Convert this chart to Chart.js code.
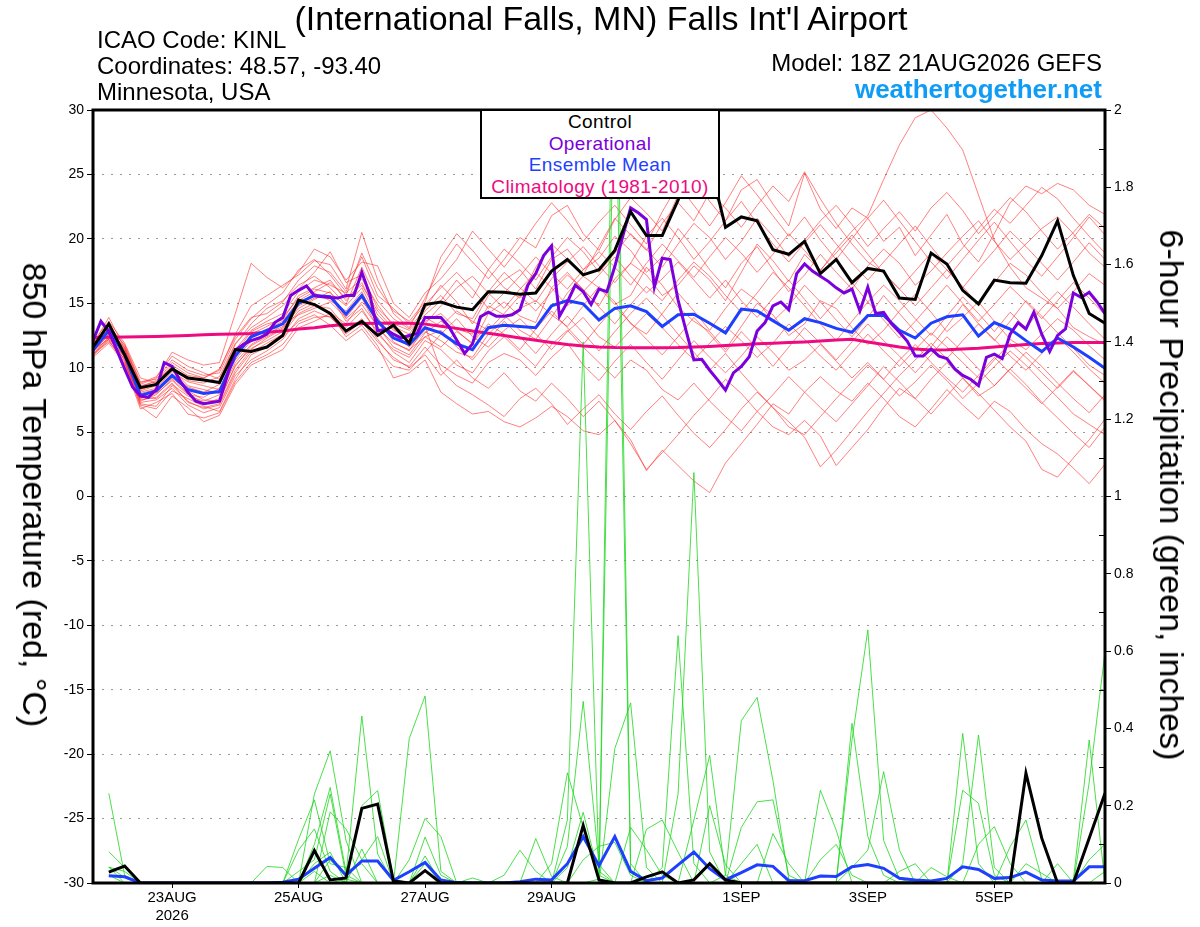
<!DOCTYPE html>
<html>
<head>
<meta charset="utf-8">
<script src="https://cdn.jsdelivr.net/npm/chart.js@4.4.1/dist/chart.umd.min.js"></script>
<style>
  body { margin: 0; background: #fff; }
  #wrap { position: relative; width: 1200px; height: 927px; font-family: 'Liberation Sans', Arial, Helvetica, sans-serif; color: #000; overflow: hidden; }
  #chart { position: absolute; left: 0; top: 0; }
  .t { position: absolute; white-space: nowrap; line-height: 1; }
  .axt { position: absolute; white-space: nowrap; line-height: 1; font-size: 34px; transform: translate(-50%, -50%) rotate(90deg); }
  #legend { position: absolute; left: 480px; top: 109px; width: 240px; height: 90px; box-sizing: border-box;
            border: 2px solid #000; background: #fff; text-align: center; font-size: 19px; line-height: 21.5px; letter-spacing: 0.4px; }
</style>
</head>
<body>
<div id="wrap">
  <canvas id="chart" width="1200" height="927"></canvas>
  <div class="t" style="left:97px;top:28px;font-size:24px">ICAO Code: KINL</div>
  <div class="t" style="left:97px;top:54px;font-size:24px">Coordinates: 48.57, -93.40</div>
  <div class="t" style="left:97px;top:80px;font-size:24px">Minnesota, USA</div>
  <div class="t" style="left:601px;top:1px;font-size:34px;transform:translateX(-50%)">(International Falls, MN) Falls Int'l Airport</div>
  <div class="t" style="right:98px;top:51px;font-size:24px">Model: 18Z 21AUG2026 GEFS</div>
  <div class="t" style="right:98px;top:76px;font-size:26px;font-weight:bold;color:#109CF5">weathertogether.net</div>
  <div class="axt" style="left:35px;top:495px">850 hPa Temperature (red, °C)</div>
  <div class="axt" style="left:1172px;top:495px">6-hour Precipitation (green, inches)</div>
  <div id="legend">
    <div style="color:#000">Control</div>
    <div style="color:#7B00DB">Operational</div>
    <div style="color:#1F3FFF">Ensemble Mean</div>
    <div style="color:#EE0A7F">Climatology (1981-2010)</div>
  </div>
</div>
<script>
// x axis: hours after 18Z 21AUG2026, 6-hourly (65 steps), operational 3-hourly (129 steps)
var tickHours = [30, 78, 126, 174, 246, 294, 342];
var dayLabels = ['23AUG', '25AUG', '27AUG', '29AUG', '1SEP', '3SEP', '5SEP'];
var yearLabel = '2026';

// 850 hPa temperature (C), 6-hourly
var controlTemp = [
  11.6, 13.4, 11.0, 8.45, 8.7, 9.9, 9.2, 9.05, 8.85, 11.4, 11.25, 11.6, 12.5,
  15.25, 14.9, 14.2, 12.85, 13.6, 12.5, 13.3, 11.9, 14.9, 15.1, 14.7, 14.5, 15.9,
  15.85, 15.7, 15.8, 17.5, 18.4, 17.2, 17.6, 19.1, 22.1, 20.25, 20.25, 23.0, 26.3,
  25.9, 20.9, 21.7, 21.4, 19.15, 18.8, 19.8, 17.3, 18.4, 16.6, 17.7, 17.5, 15.4,
  15.3, 18.9, 18.05, 16.0, 14.95, 16.8, 16.6, 16.55, 18.7, 21.4, 17.15, 14.2, 13.45
];
var meanTemp = [
  11.35, 12.9, 11.0, 7.85, 8.2, 9.4, 8.3, 8.0, 8.15, 10.9, 12.4, 12.9, 13.4,
  15.0, 15.6, 15.5, 14.15, 15.6, 13.6, 12.3, 11.8, 13.1, 12.7, 11.85, 11.4, 13.1,
  13.3, 13.2, 13.1, 14.8, 15.2, 14.95, 13.7, 14.6, 14.8, 14.35, 13.2, 14.1, 14.15,
  13.45, 12.7, 14.55, 14.4, 13.65, 12.9, 13.8, 13.5, 13.05, 12.75, 14.05, 14.05, 12.9,
  12.3, 13.45, 13.95, 14.1, 12.45, 13.5, 13.0, 12.1, 11.25, 12.3, 11.6, 10.8, 9.95
];
var climoTemp = [
  12.35, 12.37, 12.38, 12.4, 12.42, 12.45, 12.5, 12.55, 12.6, 12.62, 12.66, 12.75, 12.85,
  13.0, 13.1, 13.25, 13.35, 13.42, 13.45, 13.47, 13.45, 13.38, 13.22, 13.05, 12.85, 12.68,
  12.5, 12.3, 12.12, 11.95, 11.8, 11.68, 11.6, 11.56, 11.55, 11.55, 11.55, 11.56, 11.6,
  11.65, 11.72, 11.78, 11.85, 11.9, 11.95, 12.0, 12.07, 12.15, 12.2, 12.0, 11.8, 11.6,
  11.45, 11.38, 11.4, 11.45, 11.5, 11.6, 11.7, 11.8, 11.88, 11.92, 11.95, 11.95, 11.95
];
// operational run, 3-hourly (one row = one day)
var operTemp = [
  12.1, 13.6, 12.8, 11.4, 9.9, 8.5, 7.8, 7.7,
  8.3, 10.4, 10.1, 9.0, 8.1, 7.4, 7.2, 7.3,
  7.4, 9.4, 11.35, 11.8, 12.1, 12.3, 12.6, 13.5,
  13.9, 15.6, 16.0, 16.35, 15.6, 15.5, 15.45, 15.4,
  15.6, 15.6, 17.4, 15.7, 12.85, 13.0, 12.6, 12.3,
  12.5, 12.65, 13.9, 13.9, 13.9, 13.2, 12.15, 11.1,
  11.85, 13.95, 14.3, 14.0, 14.0, 14.1, 14.5, 16.4,
  17.3, 18.7, 19.45, 14.0, 15.1, 16.4, 15.9, 14.9,
  16.1, 15.9, 17.85, 20.2, 22.4, 22.0, 21.5, 16.25,
  18.5, 18.4, 15.25, 12.9, 10.6, 10.65, 9.8, 9.05,
  8.25, 9.6, 10.1, 10.85, 12.85, 13.5, 14.8, 15.1,
  14.5, 17.3, 18.05, 17.5, 17.1, 16.7, 16.2, 15.8,
  16.1, 14.4, 16.25, 14.2, 14.3, 13.4, 12.75, 12.05,
  10.9, 10.9, 11.45, 10.9, 10.7, 9.9, 9.4, 9.1,
  8.6, 10.8, 11.05, 10.7, 12.6, 13.5, 13.0, 14.3,
  12.6, 11.25, 12.5, 13.0, 15.8, 15.45, 15.85, 15.1,
  14.2
];

// ensemble member temperatures (C), 6-hourly
var memberTemps = [
  [11.8, 13.9, 11.5, 8.6, 8.9, 10.4, 9.6, 9.2, 9.8, 12.6, 14.8, 15.6, 16.4,
   17.2, 18.3, 18.0, 16.1, 20.5, 16.8, 14.2, 13.1, 15.4, 17.8, 19.6, 18.2, 16.9,
   18.4, 20.1, 19.3, 21.8, 22.6, 20.4, 19.1, 21.5, 23.2, 22.0, 20.6, 23.4, 24.8,
   22.9, 21.4, 23.8, 24.6, 22.7, 21.0, 25.1, 22.3, 20.8, 22.4, 21.6, 19.8, 20.9,
   18.7, 20.3, 21.9, 19.6, 18.2, 20.4, 22.8, 24.1, 23.5, 24.3, 23.8, 22.6, 21.9],
  [11.2, 12.6, 10.8, 7.4, 7.9, 9.1, 8.0, 7.2, 7.6, 10.1, 11.7, 12.4, 13.1,
   14.6, 15.3, 15.9, 13.8, 14.9, 13.2, 11.6, 11.0, 12.7, 13.6, 12.9, 11.8, 14.2,
   15.1, 14.0, 13.5, 16.2, 17.4, 16.0, 14.8, 16.9, 18.1, 17.2, 15.6, 16.4, 17.9,
   16.8, 15.2, 17.4, 19.6, 18.3, 16.7, 18.8, 17.5, 19.2, 20.6, 21.8, 24.6, 27.3,
   29.4, 30.0, 28.6, 26.9, 23.4, 19.9, 17.8, 16.2, 15.4, 14.6, 13.1, 12.4, 11.8],
  [10.9, 12.1, 10.4, 7.0, 6.1, 7.8, 6.9, 5.8, 6.3, 8.7, 10.2, 10.8, 11.4,
   13.1, 13.6, 14.2, 12.4, 13.3, 11.7, 9.2, 9.6, 10.6, 8.1, 7.2, 6.4, 6.6,
   5.8, 5.4, 6.1, 7.0, 6.2, 5.1, 4.8, 5.9, 4.4, 2.0, 3.6, 2.4, 1.2,
   0.3, 2.6, 4.1, 5.6, 7.2, 6.4, 8.1, 9.3, 8.2, 7.4, 8.8, 7.6, 6.2,
   5.4, 6.8, 8.3, 7.1, 6.0, 7.4, 6.6, 5.2, 4.1, 3.3, 2.2, 1.0, 2.5],
  [11.6, 13.2, 11.2, 8.1, 8.4, 9.7, 8.9, 8.6, 8.3, 11.1, 12.8, 13.4, 13.7,
   15.6, 16.2, 16.8, 15.2, 16.6, 14.1, 12.9, 12.3, 13.6, 14.2, 13.0, 12.6, 14.8,
   14.1, 12.9, 12.2, 13.9, 15.8, 17.1, 16.2, 14.9, 15.6, 17.8, 16.4, 14.7, 13.6,
   12.8, 11.4, 13.2, 15.0, 14.1, 12.5, 13.4, 15.2, 14.6, 13.1, 11.8, 12.9, 14.4,
   15.7, 14.3, 12.8, 13.9, 15.1, 13.6, 12.2, 11.4, 12.6, 13.8, 12.9, 11.7, 10.6],
  [11.0, 12.4, 10.6, 7.2, 7.0, 8.6, 7.4, 6.8, 7.1, 9.6, 11.2, 11.9, 12.6,
   14.2, 14.8, 14.6, 13.1, 14.4, 12.8, 11.2, 10.4, 12.1, 11.4, 10.2, 9.6, 11.3,
   12.4, 11.2, 10.1, 11.8, 12.9, 11.6, 10.4, 9.2, 10.6, 9.8, 8.3, 7.5, 8.8,
   7.4, 6.2, 5.1, 6.6, 5.4, 4.8, 5.9, 4.7, 2.4, 3.8, 5.2, 6.9, 8.4,
   7.6, 9.1, 10.4, 9.2, 7.8, 8.6, 9.9, 8.7, 7.3, 6.1, 4.9, 3.8, 5.4],
  [11.9, 12.8, 11.6, 8.8, 9.3, 10.9, 10.1, 9.6, 9.1, 11.8, 13.4, 14.6, 15.2,
   16.4, 17.1, 16.2, 14.9, 17.8, 15.2, 13.8, 13.0, 14.6, 16.4, 15.1, 13.4, 15.6,
   16.8, 17.6, 16.1, 18.4, 19.2, 17.6, 18.5, 20.2, 19.1, 17.4, 18.6, 20.8, 19.3,
   17.6, 16.2, 18.1, 19.4, 17.6, 15.9, 17.2, 18.8, 17.4, 16.1, 17.9, 19.2, 18.1,
   16.4, 17.5, 18.9, 20.2, 21.4, 19.8, 18.4, 19.6, 20.8, 21.7, 20.4, 18.9, 17.8],
  [11.4, 12.2, 10.9, 7.6, 8.0, 9.0, 7.9, 7.7, 8.4, 10.6, 12.1, 12.6, 13.2,
   14.9, 15.8, 15.2, 14.4, 15.9, 13.4, 12.6, 11.6, 12.8, 12.1, 11.2, 10.8, 12.6,
   13.8, 14.6, 15.2, 14.1, 13.2, 14.8, 16.3, 15.1, 13.4, 12.6, 14.2, 15.8, 14.4,
   12.9, 14.6, 16.1, 15.2, 13.6, 14.8, 16.4, 15.1, 13.7, 12.4, 13.9, 15.6, 14.2,
   12.8, 11.6, 13.2, 14.9, 13.4, 12.1, 13.6, 15.2, 14.0, 12.7, 11.5, 10.2, 9.4],
  [11.7, 13.5, 11.3, 8.3, 8.7, 10.1, 9.0, 8.8, 9.3, 11.9, 13.1, 13.9, 14.8,
   16.1, 17.4, 19.0, 16.6, 17.2, 14.6, 13.4, 12.9, 14.1, 15.2, 16.8, 15.4, 17.6,
   16.2, 15.4, 17.8, 19.6, 18.4, 17.2, 19.4, 21.6, 20.3, 19.1, 21.2, 22.8, 21.4,
   23.6, 22.4, 20.9, 22.6, 24.1, 22.9, 25.2, 23.1, 21.2, 19.6, 18.2, 17.4, 16.1,
   14.8, 16.2, 17.6, 16.3, 14.9, 16.6, 18.1, 17.2, 15.8, 14.6, 15.9, 17.3, 16.4],
  [11.1, 12.0, 10.7, 7.3, 7.5, 8.4, 7.1, 6.5, 6.9, 9.4, 10.6, 11.3, 12.2,
   13.8, 14.4, 13.9, 12.8, 13.8, 12.2, 10.6, 10.1, 11.6, 10.2, 9.4, 8.8, 10.4,
   11.1, 10.6, 9.4, 10.8, 11.9, 10.2, 9.0, 10.5, 11.8, 10.4, 9.1, 10.6, 12.1,
   10.8, 9.6, 10.9, 12.4, 11.2, 9.8, 10.6, 11.8, 10.5, 9.2, 10.4, 9.1, 7.8,
   8.9, 10.2, 9.0, 7.6, 8.8, 10.1, 11.3, 10.2, 8.9, 7.7, 6.4, 5.6, 4.8],
  [11.5, 12.7, 11.1, 7.9, 8.1, 9.2, 8.2, 7.5, 7.4, 10.2, 11.5, 12.1, 12.8,
   14.4, 15.0, 14.3, 13.4, 15.1, 13.9, 12.0, 11.3, 13.2, 9.8, 8.6, 7.9, 7.1,
   6.2, 7.6, 8.4, 7.2, 5.6, 6.8, 7.9, 6.4, 5.2, 6.6, 7.8, 6.3, 4.9,
   3.8, 5.2, 6.8, 8.1, 6.9, 5.4, 4.8, 6.2, 7.6, 8.9, 10.2, 9.1, 10.6,
   11.8, 10.4, 9.2, 8.1, 9.4, 10.8, 9.6, 8.4, 7.2, 8.5, 9.8, 8.6, 7.4],
  [12.1, 13.1, 11.8, 8.9, 9.1, 10.6, 9.8, 9.4, 9.6, 12.2, 13.8, 14.9, 15.8,
   17.6, 18.4, 17.2, 15.6, 18.9, 16.2, 14.4, 13.6, 15.1, 18.6, 20.4, 19.1, 17.6,
   19.2, 18.1, 16.8, 18.6, 20.1, 19.0, 17.4, 18.9, 20.4, 19.2, 17.8, 19.6, 21.2,
   20.1, 18.4, 19.8, 21.6, 20.2, 18.6, 19.9, 21.4, 22.6, 21.1, 19.4, 20.8, 22.1,
   20.6, 22.4, 23.6, 22.2, 20.4, 21.8, 23.2, 22.1, 20.6, 19.2, 20.5, 21.9, 20.8],
  [11.3, 12.5, 10.5, 7.1, 6.8, 8.2, 7.6, 7.0, 6.6, 9.1, 11.0, 11.6, 12.4,
   13.6, 14.1, 13.3, 12.1, 13.0, 11.4, 10.1, 9.8, 11.2, 12.6, 13.8, 12.4, 11.6,
   12.9, 13.8, 12.6, 11.4, 12.8, 13.9, 12.4, 11.6, 12.9, 14.2, 13.1, 11.8, 10.6,
   11.9, 13.2, 12.1, 10.8, 11.9, 13.4, 12.2, 10.9, 9.8, 11.2, 12.6, 11.3, 10.1,
   11.4, 12.7, 11.6, 10.4, 9.2, 10.6, 11.9, 10.8, 9.6, 8.4, 9.7, 8.6, 7.5],
  [11.8, 12.9, 11.4, 8.5, 9.0, 10.0, 9.3, 9.0, 8.9, 11.4, 12.9, 13.6, 14.2,
   15.9, 16.8, 16.4, 15.8, 16.9, 14.9, 13.2, 12.6, 14.4, 15.6, 14.2, 13.8, 15.9,
   17.4, 16.2, 15.1, 16.9, 18.2, 19.4, 17.9, 16.6, 18.1, 20.2, 21.6, 20.1, 18.4,
   19.8, 21.4, 22.9, 21.2, 19.6, 18.2, 19.7, 21.1, 19.6, 18.1, 16.8, 18.2, 19.6,
   21.0, 19.4, 17.9, 19.3, 20.8, 22.3, 21.2, 22.6, 24.0, 23.1, 21.6, 20.2, 18.9],
  [11.2, 12.3, 10.8, 7.5, 7.7, 8.8, 7.3, 6.9, 7.2, 9.8, 11.4, 12.3, 13.0,
   14.8, 15.4, 15.6, 13.6, 14.6, 12.6, 11.4, 10.8, 12.4, 12.9, 11.6, 10.6, 12.1,
   13.6, 12.4, 11.1, 12.6, 14.0, 12.7, 11.3, 12.8, 14.2, 15.4, 14.1, 12.6, 11.2,
   9.8, 11.1, 9.6, 8.2, 6.9, 5.8, 4.6, 2.3, 3.6, 5.1, 6.6, 8.0, 9.4,
   10.6, 11.9, 10.7, 12.1, 13.4, 12.2, 10.9, 9.8, 11.1, 12.4, 11.2, 9.9, 8.8],
  [11.6, 13.0, 11.5, 8.2, 8.6, 9.9, 8.6, 8.3, 8.0, 10.8, 12.6, 13.2, 13.9,
   15.4, 16.1, 15.8, 14.8, 16.2, 13.8, 12.4, 11.9, 13.4, 14.8, 16.2, 17.1, 15.8,
   14.6, 16.1, 17.4, 16.2, 14.8, 15.9, 17.2, 18.6, 17.1, 15.8, 16.9, 18.2, 16.8,
   15.4, 16.8, 15.2, 13.9, 15.4, 16.8, 15.3, 13.8, 15.2, 16.6, 15.1, 13.7, 12.3,
   13.6, 15.0, 16.4, 15.0, 13.6, 14.9, 16.3, 15.1, 13.8, 15.2, 16.6, 15.4, 14.1],
  [11.9, 13.3, 11.7, 8.7, 9.2, 11.2, 10.6, 10.2, 10.4, 14.2, 18.1, 17.0, 16.2,
   17.4, 19.2, 18.6, 16.8, 18.2, 17.9, 15.0, 13.9, 15.8, 16.9, 18.4, 20.6, 19.2,
   17.8, 19.4, 21.2, 22.8, 21.4, 19.8, 21.3, 22.6, 21.1, 19.6, 22.1, 24.2, 22.6,
   21.0, 22.8, 24.9, 23.4, 21.8, 20.2, 21.7, 19.9, 18.4, 20.0, 21.6, 23.0, 21.4,
   19.8, 18.2, 16.9, 18.4, 19.9, 21.3, 19.8, 18.3, 17.1, 18.6, 20.1, 21.7, 20.3],
  [11.0, 12.2, 10.2, 6.8, 7.3, 8.0, 6.4, 6.1, 6.5, 8.9, 10.4, 11.0, 11.8,
   13.4, 13.9, 14.0, 12.6, 13.6, 12.0, 10.8, 10.0, 11.0, 9.4, 10.6, 9.2, 8.4,
   9.6, 8.2, 7.4, 8.8, 7.6, 6.2, 7.4, 5.9, 4.1, 2.1, 3.4, 4.8, 6.3,
   7.6, 9.1, 8.0, 6.6, 7.9, 9.3, 8.1, 6.9, 5.8, 7.2, 8.6, 10.1, 8.9,
   7.6, 6.4, 7.8, 9.2, 8.0, 6.7, 5.4, 4.3, 2.1, 1.5, 3.0, 4.4, 6.0],
  [11.4, 12.6, 11.0, 8.0, 8.3, 9.5, 8.5, 8.1, 8.7, 11.3, 12.4, 13.0, 13.6,
   15.2, 15.9, 16.6, 15.4, 16.4, 14.4, 13.0, 12.2, 13.9, 13.2, 14.4, 13.6, 12.9,
   14.2, 15.6, 14.4, 15.9, 17.2, 16.1, 14.7, 13.4, 14.9, 16.3, 15.2, 16.8, 18.2,
   17.1, 15.6, 14.3, 15.8, 17.4, 16.2, 14.8, 13.4, 12.1, 13.6, 15.1, 16.4, 15.2,
   13.8, 12.5, 14.0, 15.5, 14.2, 12.8, 14.3, 13.1, 14.6, 15.9, 14.7, 13.4, 12.2],
  [10.8, 11.9, 10.3, 7.7, 7.6, 8.7, 7.8, 7.4, 7.9, 10.4, 11.8, 12.5, 13.4,
   14.1, 14.6, 15.1, 13.9, 15.4, 13.1, 11.9, 11.4, 12.4, 11.6, 12.8, 11.9, 13.4,
   12.6, 11.4, 13.0, 14.4, 13.1, 11.8, 13.3, 14.7, 13.5, 12.2, 11.0, 12.4, 13.9,
   12.6, 11.2, 12.8, 11.5, 10.1, 11.6, 13.1, 11.9, 10.6, 12.0, 13.4, 12.1, 10.9,
   9.6, 11.0, 12.4, 11.2, 9.9, 8.6, 9.9, 11.2, 10.1, 8.8, 7.6, 6.5, 7.9],
  [12.0, 13.6, 11.9, 9.2, 8.8, 10.2, 9.4, 9.2, 9.9, 12.4, 13.9, 14.2, 15.1,
   16.8, 17.9, 17.4, 15.9, 18.6, 15.6, 14.6, 13.4, 14.9, 16.2, 17.4, 16.1, 14.6,
   15.8, 17.1, 18.6, 17.3, 16.1, 17.6, 19.0, 17.8, 16.4, 18.1, 19.6, 18.3, 17.0,
   18.6, 20.1, 18.9, 17.4, 18.8, 20.4, 19.1, 17.6, 18.9, 20.3, 18.8, 17.3, 16.1,
   17.5, 18.9, 17.6, 16.2, 17.7, 19.1, 20.6, 19.4, 18.1, 16.8, 18.2, 19.7, 18.4]
];

// 6-hour precipitation (inches), first step has no accumulation
var controlPrecip = [
  null, .028, .044, 0, 0, 0, 0, 0, 0, 0, 0, 0, 0,
  0, .084, .008, .013, .193, .204, .005, 0, .032, 0, 0, 0, 0,
  0, 0, 0, 0, 0, .149, .008, 0, 0, .016, .029, 0, .008,
  .05, .008, 0, 0, 0, 0, 0, 0, 0, 0, 0, 0, 0,
  0, 0, 0, 0, 0, 0, 0, .284, .116, 0, 0, .116, .232
];
var meanPrecip = [
  null, .019, .016, 0, 0, 0, 0, 0, 0, 0, 0, 0, .002,
  .01, .038, .066, .02, .057, .057, .007, .029, .053, .008, .001, 0, 0,
  0, .003, .01, .008, .05, .12, .045, .12, .03, .006, .013, .047, .08,
  .037, .008, .027, .047, .043, .006, .006, .018, .017, .042, .048, .038, .012,
  .008, .005, .012, .042, .035, .012, .014, .028, .008, .005, .005, .042, .042
];
var memberPrecips = [
  [null, .232, .02, 0, 0, 0, 0, 0, 0, 0, 0, 0, 0,
   0, .03, 0, 0, 0, 0, 0, 0, .05, 0, 0, 0, 0,
   0, 0, 0, 0, 0, 0, 0, 0, 0, 0, 0, 0, 0,
   0, 0, .05, .1, 0, 0, 0, 0, 0, 0, 0, 0, 0,
   0, 0, 0, 0, 0, 0, 0, 0, 0, 0, 0, 0, 0],
  [null, .081, .04, 0, 0, 0, 0, 0, 0, 0, 0, 0, 0,
   0, 0, .02, 0, 0, 0, 0, 0, 0, 0, 0, .013, 0,
   0, 0, 0, 0, 0, 0, 0, 0, 0, 0, 0, 0, 0,
   0, 0, 0, 0, .128, .05, 0, 0, 0, 0, 0, 0, 0,
   0, 0, 0, 0, 0, 0, 0, 0, 0, 0, 0, 0, 0],
  [null, .041, .03, 0, 0, 0, 0, 0, 0, 0, 0, 0, 0,
   0, 0, 0, .01, 0, 0, 0, 0, 0, 0, 0, 0, 0,
   .02, .085, .03, 0, 0, 0, 0, 0, 0, 0, 0, 0, 0,
   0, 0, 0, 0, 0, 0, 0, .24, .137, 0, 0, 0, 0,
   0, 0, 0, 0, 0, 0, 0, 0, 0, 0, 0, 0, 0],
  [null, .041, .015, 0, 0, 0, 0, 0, 0, 0, 0, 0, 0,
   0, 0, 0, 0, 0, 0, 0, 0, 0, 0, 0, 0, 0,
   0, 0, .115, .017, 0, 0, 0, 0, 0, 0, 0, 0, 0,
   0, 0, 0, 0, 0, 0, 0, .06, .1, .02, 0, 0, 0,
   0, 0, 0, 0, 0, 0, 0, 0, 0, 0, 0, 0, 0],
  [null, .041, 0, 0, 0, 0, 0, 0, 0, 0, 0, 0, 0,
   0, 0, 0, 0, 0, 0, 0, 0, 0, 0, 0, 0, 0,
   0, 0, 0, .05, .285, .144, .01, 0, 0, 0, 0, 0, 0,
   0, 0, 0, 0, 0, 0, 0, 0, 0, .413, .12, .02, 0,
   0, 0, 0, 0, 0, 0, 0, 0, 0, 0, 0, 0, 0],
  [null, .02, 0, 0, 0, 0, 0, 0, 0, 0, 0, 0, 0,
   0, 0, 0, 0, 0, 0, 0, 0, 0, 0, 0, 0, 0,
   0, 0, 0, 0, .163, 1.4, .03, 0, 0, 0, 0, 0, 0,
   0, 0, 0, 0, 0, 0, 0, 0, 0, .37, .655, .11, .01,
   0, 0, 0, 0, 0, 0, 0, 0, 0, 0, 0, 0, 0],
  [null, 0, 0, 0, 0, 0, 0, 0, 0, 0, 0, .043, .04,
   0, 0, 0, 0, 0, 0, 0, 0, 0, 0, 0, 0, 0,
   0, 0, 0, 0, .095, .47, .047, 0, 0, 0, 0, 0, 0,
   0, 0, 0, 0, 0, 0, 0, 0, 0, .04, .085, .288, .085,
   0, 0, 0, 0, 0, 0, 0, 0, 0, 0, 0, 0, 0],
  [null, 0, 0, 0, 0, 0, 0, 0, 0, 0, 0, 0, 0,
   .113, .215, .05, .04, 0, 0, 0, 0, 0, 0, 0, 0, 0,
   0, 0, 0, 0, .04, .183, .02, 0, 0, 0, 0, 0, 0,
   0, 0, 0, 0, 0, 0, 0, 0, 0, 0, 0, 0, .03,
   .05, 0, 0, 0, 0, 0, 0, 0, 0, 0, 0, 0, 0],
  [null, 0, 0, 0, 0, 0, 0, 0, 0, 0, 0, 0, 0,
   .085, .14, .03, 0, .088, 0, 0, 0, 0, 0, 0, 0, 0,
   0, 0, 0, 0, 0, .06, .095, .105, .02, 0, 0, 0, 0,
   0, 0, 0, 0, 0, 0, 0, 0, 0, 0, 0, 0, 0,
   0, .04, .016, 0, 0, 0, 0, 0, 0, 0, 0, 0, 0],
  [null, 0, 0, 0, 0, 0, 0, 0, 0, 0, 0, 0, 0,
   .03, .06, .23, .02, 0, 0, 0, 0, 0, 0, 0, 0, 0,
   0, 0, 0, 0, 0, 0, .01, 2.5, .05, 0, 0, 0, 0,
   0, 0, 0, 0, 0, 0, 0, 0, 0, 0, 0, 0, 0,
   0, 0, 0, .387, .05, 0, 0, 0, 0, 0, 0, 0, 0],
  [null, 0, 0, 0, 0, 0, 0, 0, 0, 0, 0, 0, 0,
   0, .23, .342, .11, 0, 0, 0, 0, 0, 0, 0, 0, 0,
   0, 0, 0, 0, 0, 0, 0, 2.2, .03, 0, 0, 0, 0,
   0, 0, 0, 0, 0, 0, 0, 0, 0, 0, 0, 0, 0,
   0, 0, 0, .24, .206, .02, 0, 0, 0, 0, 0, 0, 0],
  [null, 0, 0, 0, 0, 0, 0, 0, 0, 0, 0, 0, 0,
   0, .1, .247, .03, .05, 0, 0, 0, 0, 0, 0, 0, 0,
   0, 0, 0, 0, 0, 0, 0, .348, .466, .04, 0, 0, 0,
   0, 0, 0, 0, 0, 0, 0, 0, 0, 0, 0, 0, 0,
   0, 0, 0, .05, .383, .04, 0, 0, 0, 0, 0, 0, 0],
  [null, 0, 0, 0, 0, 0, 0, 0, 0, 0, 0, 0, 0,
   0, .05, .08, 0, 0, 0, 0, 0, 0, 0, 0, 0, 0,
   0, 0, 0, 0, 0, 0, 0, 0, .144, .086, .02, 0, 0,
   0, 0, 0, 0, 0, 0, 0, 0, 0, 0, 0, 0, 0,
   0, 0, 0, 0, .1, .146, .05, 0, 0, 0, 0, 0, 0],
  [null, 0, 0, 0, 0, 0, 0, 0, 0, 0, 0, 0, 0,
   0, 0, .184, .14, .06, .12, 0, 0, 0, 0, 0, 0, 0,
   0, 0, 0, 0, 0, 0, 0, 0, 0, .139, .163, .08, 0,
   0, 0, 0, 0, 0, 0, 0, 0, 0, 0, 0, 0, 0,
   0, 0, 0, 0, 0, 0, .094, .163, .01, 0, 0, 0, 0],
  [null, 0, 0, 0, 0, 0, 0, 0, 0, 0, 0, 0, 0,
   0, 0, .06, .02, .432, .075, 0, 0, 0, 0, 0, 0, 0,
   0, 0, 0, 0, 0, 0, 0, 0, 0, 0, .04, .64, .05,
   0, 0, 0, 0, 0, 0, 0, 0, 0, 0, 0, 0, 0,
   0, 0, 0, 0, 0, 0, 0, .05, .025, 0, 0, 0, 0],
  [null, 0, 0, 0, 0, 0, 0, 0, 0, 0, 0, 0, 0,
   0, 0, 0, 0, .2, .239, .01, 0, 0, 0, 0, 0, 0,
   0, 0, 0, 0, 0, 0, 0, 0, 0, 0, 0, .23, 1.062,
   .08, 0, 0, 0, 0, 0, 0, 0, 0, 0, 0, 0, 0,
   0, 0, 0, 0, 0, 0, 0, 0, 0, .05, 0, 0, 0],
  [null, 0, 0, 0, 0, 0, 0, 0, 0, 0, 0, 0, 0,
   0, 0, 0, 0, 0, 0, 0, .374, .484, .03, 0, 0, 0,
   0, 0, 0, 0, 0, 0, 0, 0, 0, 0, 0, 0, .163,
   .33, .02, 0, 0, 0, 0, 0, 0, 0, 0, 0, 0, 0,
   0, 0, 0, 0, 0, 0, 0, 0, 0, 0, .008, .37, 0],
  [null, 0, 0, 0, 0, 0, 0, 0, 0, 0, 0, 0, 0,
   0, 0, 0, 0, 0, 0, 0, .06, .167, .12, 0, 0, 0,
   0, 0, 0, 0, 0, 0, 0, 0, 0, 0, 0, 0, 0,
   .2, .047, 0, 0, 0, 0, 0, 0, 0, 0, 0, 0, 0,
   0, 0, 0, 0, 0, 0, 0, 0, 0, 0, 0, .26, .598],
  [null, 0, 0, 0, 0, 0, 0, 0, 0, 0, 0, 0, 0,
   0, 0, 0, 0, 0, 0, 0, 0, .119, .02, 0, 0, 0,
   0, 0, 0, 0, 0, 0, 0, 0, 0, 0, 0, 0, 0,
   0, .02, .42, .48, .265, .01, 0, 0, 0, 0, 0, 0, 0,
   0, 0, 0, 0, 0, 0, 0, 0, 0, 0, 0, .06, .1],
  [null, 0, 0, 0, 0, 0, 0, 0, 0, 0, 0, 0, 0,
   0, 0, 0, 0, 0, 0, 0, 0, .07, 0, 0, 0, 0,
   0, 0, 0, 0, 0, 0, 0, 0, 0, 0, 0, 0, 0,
   0, 0, .144, .21, .215, .02, 0, 0, 0, 0, 0, 0, 0,
   0, 0, 0, 0, 0, 0, 0, 0, 0, 0, 0, 0, .03]
];

// sanity check on lengths
[controlTemp, meanTemp, climoTemp, controlPrecip, meanPrecip].concat(memberTemps, memberPrecips).forEach(function (a, k) {
  if (a.length !== 65) throw new Error('series ' + k + ' has ' + a.length + ' values');
});
if (operTemp.length !== 129) throw new Error('operational has ' + operTemp.length);

function toPoints(values, stepHours) {
  return values.map(function (v, i) { return { x: i * stepHours, y: v }; });
}

var datasets = [];
memberTemps.forEach(function (m) {
  datasets.push({ data: toPoints(m, 6), yAxisID: 'yT', borderColor: 'rgba(255,45,45,0.6)', borderWidth: 1, order: 8 });
});
memberPrecips.forEach(function (m) {
  datasets.push({ data: toPoints(m, 6), yAxisID: 'yP', borderColor: 'rgba(30,215,30,0.8)', borderWidth: 1, order: 7 });
});
datasets.push({ label: 'Climatology (1981-2010)', data: toPoints(climoTemp, 6), yAxisID: 'yT', borderColor: '#EE0A7F', borderWidth: 3, order: 6 });
datasets.push({ label: 'Ensemble Mean', data: toPoints(meanTemp, 6), yAxisID: 'yT', borderColor: '#1F3FFF', borderWidth: 3, order: 5 });
datasets.push({ label: 'Operational', data: toPoints(operTemp, 3), yAxisID: 'yT', borderColor: '#7B00DB', borderWidth: 3, order: 4 });
datasets.push({ label: 'Control', data: toPoints(controlTemp, 6), yAxisID: 'yT', borderColor: '#000', borderWidth: 3, order: 3 });
datasets.push({ label: 'Ensemble Mean precip', data: toPoints(meanPrecip, 6), yAxisID: 'yP', borderColor: '#1F3FFF', borderWidth: 3, order: 2 });
datasets.push({ label: 'Control precip', data: toPoints(controlPrecip, 6), yAxisID: 'yP', borderColor: '#000', borderWidth: 3, order: 1 });

// thick frame round the plot and small minor ticks on the precip axis
var framePlugin = {
  id: 'frame',
  afterDatasetsDraw: function (chart) {
    var ctx = chart.ctx, a = chart.chartArea, yP = chart.scales.yP;
    ctx.save();
    ctx.strokeStyle = '#000';
    ctx.lineWidth = 3;
    ctx.strokeRect(a.left, a.top, a.right - a.left, a.bottom - a.top);
    ctx.lineWidth = 1;
    for (var v = 0.1; v < 2; v += 0.2) {
      var y = Math.round(yP.getPixelForValue(v)) + 0.5;
      ctx.beginPath();
      ctx.moveTo(a.right - 6, y);
      ctx.lineTo(a.right, y);
      ctx.stroke();
    }
    ctx.restore();
  }
};

var tickFont = { family: "'Liberation Sans', Arial, sans-serif", size: 14 };

new Chart(document.getElementById('chart').getContext('2d'), {
  type: 'line',
  data: { datasets: datasets },
  options: {
    responsive: false,
    animation: false,
    devicePixelRatio: 1,
    layout: { padding: { top: 110, left: 0, right: 0, bottom: 0 } },
    elements: { point: { radius: 0 }, line: { tension: 0, fill: false } },
    plugins: { legend: { display: false }, tooltip: { enabled: false }, title: { display: false } },
    scales: {
      x: {
        type: 'linear', min: 0, max: 384,
        afterBuildTicks: function (s) { s.ticks = tickHours.map(function (h) { return { value: h }; }); },
        afterFit: function (s) { s.height = 44; },
        ticks: {
          autoSkip: false, maxRotation: 0, padding: 1, color: '#000',
          font: { family: "'Liberation Sans', Arial, sans-serif", size: 15 },
          callback: function (v) {
            var k = tickHours.indexOf(v);
            return k === 0 ? [dayLabels[0], yearLabel] : dayLabels[k];
          }
        },
        grid: { drawOnChartArea: false, drawTicks: true, tickLength: 5, tickColor: '#000', color: '#000' },
        border: { display: false }
      },
      yT: {
        position: 'left', min: -30, max: 30,
        afterFit: function (s) { s.width = 93; },
        ticks: { stepSize: 5, padding: 3, color: '#000', font: tickFont },
        grid: { drawOnChartArea: true, color: '#9a9a9a', lineWidth: 1, tickLength: 6, tickColor: '#000' },
        border: { display: false, dash: [2, 7] }
      },
      yP: {
        position: 'right', min: 0, max: 2,
        afterFit: function (s) { s.width = 95; },
        ticks: {
          stepSize: 0.2, padding: 3, color: '#000', font: tickFont,
          callback: function (v) { return String(+v.toFixed(1)); }
        },
        grid: { drawOnChartArea: false, tickLength: 6, tickColor: '#000', color: '#000' },
        border: { display: false }
      }
    }
  },
  plugins: [framePlugin]
});
</script>
</body>
</html>
